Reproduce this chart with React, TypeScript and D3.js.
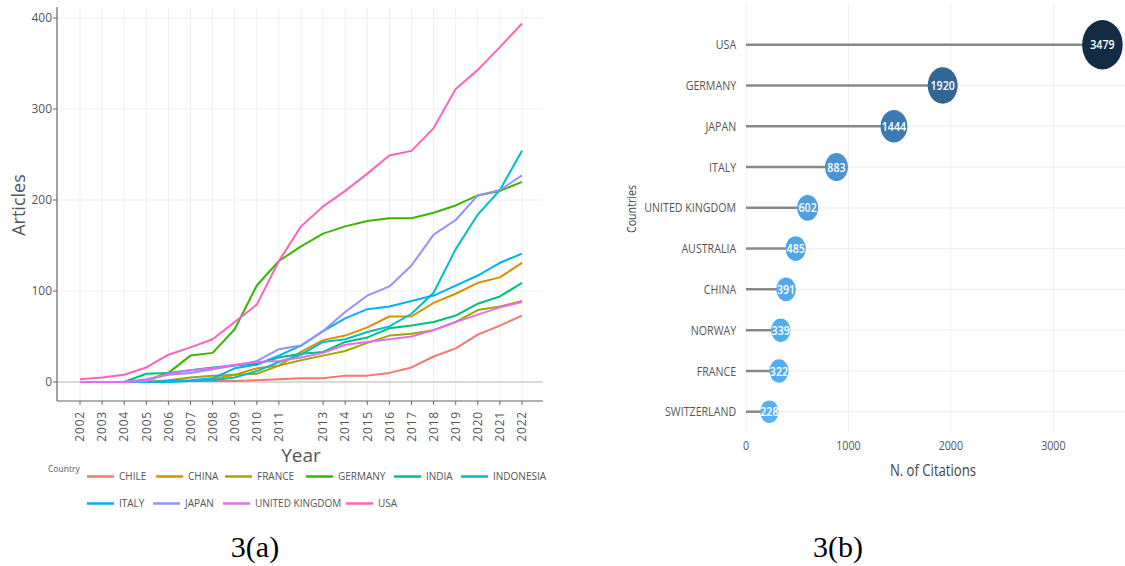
import React from "react";
import * as d3 from "d3";

// ---------- Data: panel (a) ----------
const YEARS = [2002, 2003, 2004, 2005, 2006, 2007, 2008, 2009, 2010, 2011, 2012, 2013, 2014, 2015, 2016, 2017, 2018, 2019, 2020, 2021, 2022];
const X_TICK_YEARS = [2002, 2003, 2004, 2005, 2006, 2007, 2008, 2009, 2010, 2011, 2013, 2014, 2015, 2016, 2017, 2018, 2019, 2020, 2021, 2022];
const Y_TICKS = [0, 100, 200, 300, 400];

const CHILE = [0, 0, 0, 0, 1, 1, 1, 1, 2, 3, 4, 4, 7, 7, 10, 16, 28, 37, 52, 62, 73];
const CHINA = [0, 0, 0, 0, 1, 1, 3, 8, 15, 18, 33, 46, 51, 60, 72, 72, 87, 97, 109, 115, 131];
const FRANCE = [0, 0, 0, 0, 2, 5, 7, 8, 9, 18, 24, 29, 34, 43, 51, 53, 57, 66, 79, 83, 89];
const GERMANY = [0, 0, 0, 2, 10, 29, 32, 58, 106, 133, 149, 163, 171, 177, 180, 180, 186, 194, 205, 210, 220];
const INDIA = [0, 0, 0, 9, 10, 13, 16, 18, 20, 27, 31, 33, 44, 49, 59, 62, 66, 73, 86, 94, 109];
const INDONESIA = [0, 0, 0, 0, 0, 1, 2, 5, 12, 22, 30, 44, 47, 55, 61, 75, 98, 146, 184, 211, 254];
const ITALY = [0, 0, 0, 0, 1, 2, 4, 15, 19, 29, 40, 56, 70, 80, 83, 89, 95, 106, 117, 131, 141];
const JAPAN = [0, 0, 0, 3, 8, 10, 14, 18, 23, 36, 40, 56, 77, 95, 105, 128, 162, 178, 205, 211, 227];
const UNITED_KINGDOM = [0, 0, 0, 1, 9, 13, 15, 19, 22, 23, 27, 32, 41, 44, 47, 50, 57, 66, 74, 82, 88];
const USA = [3, 5, 8, 16, 30, 38, 47, 66, 85, 133, 171, 193, 210, 229, 249, 254, 279, 322, 343, 368, 394];

const SERIES_NAMES = ["CHILE", "CHINA", "FRANCE", "GERMANY", "INDIA", "INDONESIA", "ITALY", "JAPAN", "UNITED KINGDOM", "USA"];
const SERIES_VALUES = [CHILE, CHINA, FRANCE, GERMANY, INDIA, INDONESIA, ITALY, JAPAN, UNITED_KINGDOM, USA];
const SERIES_COLORS = ["#F8766D", "#D89000", "#A3A500", "#39B600", "#00BF7D", "#00BFC4", "#00B0F6", "#9590FF", "#E76BF3", "#FF62BC"];

// ---------- Data: panel (b) ----------
const CITATION_COUNTRIES = ["USA", "GERMANY", "JAPAN", "ITALY", "UNITED KINGDOM", "AUSTRALIA", "CHINA", "NORWAY", "FRANCE", "SWITZERLAND"];
const CITATIONS = [3479, 1920, 1444, 883, 602, 485, 391, 339, 322, 228];
const CITATION_TICKS = [0, 1000, 2000, 3000];

// ---------- Layout ----------
const W = 1125;
const H = 566;
const LEGEND_ROWS = [
  { y: 476.5, xs: [87, 156, 225, 306, 394, 461], items: [0, 1, 2, 3, 4, 5] },
  { y: 503.5, xs: [87, 153, 223, 346], items: [6, 7, 8, 9] },
];

export default function App() {
  // Panel (a) scales
  const x = d3.scaleLinear().domain([2002, 2022]).range([80, 522]);
  const y = d3.scaleLinear().domain([0, 400]).range([382, 18]);
  const plotL = 57, plotR = 543, plotT = 7, plotB = 401;
  const line = d3
    .line<number>()
    .x((_, i) => x(YEARS[i]))
    .y((d) => y(d));

  // Panel (b) scales (drawn in an un-squeezed frame, then squeezed horizontally)
  const squeeze = 0.82;
  const originX = 746;
  const xr = d3.scaleLinear().domain([0, 3000]).range([0, 374.8]);
  const rightEdge = (W - originX) / squeeze;
  const yr = d3.scalePoint<string>().domain(CITATION_COUNTRIES).range([44.7, 411.7]);
  const rScale = d3.scaleLinear().domain([228, 3479]).range([11.3, 24.7]);
  const cScale = d3
    .scaleLinear<string>()
    .domain([228, 3479])
    .range(["#56B1F7", "#132B43"])
    .interpolate(d3.interpolateLab);

  const grid = "#efefef";
  const txt = "#555";

  return (
    <svg
      width={W}
      height={H}
      style={{ position: "absolute", left: 0, top: 0, background: "#fff" }}
      fontFamily="'Open Sans', sans-serif"
    >
      {/* ===== Panel (a) ===== */}
      <g>
        {YEARS.map((yr0) => (
          <line key={"vg" + yr0} x1={x(yr0)} x2={x(yr0)} y1={plotT} y2={plotB} stroke={grid} strokeWidth={1} />
        ))}
        {Y_TICKS.filter((t) => t > 0).map((t) => (
          <line key={"hg" + t} x1={plotL} x2={plotR} y1={y(t)} y2={y(t)} stroke={grid} strokeWidth={1} />
        ))}
        <line x1={plotL} x2={plotR} y1={y(0)} y2={y(0)} stroke="#d9d9d9" strokeWidth={2} />

        {SERIES_VALUES.map((vals, i) => (
          <path key={SERIES_NAMES[i]} d={line(vals) || ""} fill="none" stroke={SERIES_COLORS[i]} strokeWidth={2} strokeLinejoin="round" />
        ))}

        {/* axes */}
        <line x1={plotL} x2={plotL} y1={plotT} y2={plotB} stroke="#666" strokeWidth={1.2} />
        <line x1={plotL} x2={plotR} y1={plotB} y2={plotB} stroke="#666" strokeWidth={1.2} />
        {Y_TICKS.map((t) => (
          <g key={"yt" + t}>
            <line x1={plotL - 4} x2={plotL} y1={y(t)} y2={y(t)} stroke="#666" />
            <text x={plotL - 5} y={y(t)} dy="0.35em" textAnchor="end" fontSize={12} fill={txt}>
              {t}
            </text>
          </g>
        ))}
        {X_TICK_YEARS.map((t) => (
          <g key={"xt" + t}>
            <line x1={x(t)} x2={x(t)} y1={plotB} y2={plotB + 4} stroke="#666" />
            <text
              transform={`translate(${x(t)},${plotB + 10}) rotate(-90)`}
              dy="0.35em"
              textAnchor="end"
              fontSize={12}
              letterSpacing={0.8}
              fill={txt}
            >
              {t}
            </text>
          </g>
        ))}
        <text x={301} y={462} textAnchor="middle" fontSize={19} fill={txt}>
          Year
        </text>
        <text transform={`translate(25,205) rotate(-90)`} textAnchor="middle" fontSize={18} fill={txt}>
          Articles
        </text>

        {/* legend */}
        <text x={48} y={472} fontSize={8.5} fill={txt}>
          Country
        </text>
        {LEGEND_ROWS.map((row, ri) =>
          row.items.map((si, k) => (
            <g key={"lg" + ri + "-" + k}>
              <line x1={row.xs[k]} x2={row.xs[k] + 27} y1={row.y} y2={row.y} stroke={SERIES_COLORS[si]} strokeWidth={2.5} />
              <text x={row.xs[k] + 32} y={row.y} dy="0.36em" fontSize={10} fill={txt}>
                {SERIES_NAMES[si]}
              </text>
            </g>
          ))
        )}
      </g>

      {/* ===== Panel (b) ===== */}
      <g transform={`translate(${originX},0) scale(${squeeze},1)`}>
        {CITATION_TICKS.map((t) => (
          <line key={"rvg" + t} x1={xr(t)} x2={xr(t)} y1={3} y2={433} stroke={grid} strokeWidth={1.2} />
        ))}
        {CITATION_COUNTRIES.map((c) => (
          <line key={"rhg" + c} x1={0} x2={rightEdge} y1={yr(c)} y2={yr(c)} stroke={grid} strokeWidth={1.2} />
        ))}
        {CITATION_COUNTRIES.map((c, i) => (
          <line key={"stem" + c} x1={xr(0)} x2={xr(CITATIONS[i])} y1={yr(c)} y2={yr(c)} stroke="#888" strokeWidth={2.5} />
        ))}
        {CITATION_COUNTRIES.map((c, i) => (
          <g key={"pt" + c}>
            <circle cx={xr(CITATIONS[i])} cy={yr(c)} r={rScale(CITATIONS[i])} fill={cScale(CITATIONS[i])} />
            <text x={xr(CITATIONS[i])} y={yr(c)} dy="0.36em" textAnchor="middle" fontSize={13} fontWeight={600} fill="#fff">
              {CITATIONS[i]}
            </text>
          </g>
        ))}
        {CITATION_COUNTRIES.map((c) => (
          <text key={"lab" + c} x={-12} y={yr(c)} dy="0.36em" textAnchor="end" fontSize={13} fill={txt}>
            {c}
          </text>
        ))}
        {CITATION_TICKS.map((t) => (
          <text key={"rxt" + t} x={xr(t)} y={450} textAnchor="middle" fontSize={13} fill={txt}>
            {t}
          </text>
        ))}
        <text x={228} y={476} textAnchor="middle" fontSize={16} fill="#444">
          N. of Citations
        </text>
        <text
          transform={`translate(-134,209) rotate(-90)`}
          textAnchor="middle"
          fontSize={16}
          textLength={48}
          lengthAdjust="spacingAndGlyphs"
          fill="#444"
        >
          Countries
        </text>
      </g>

      {/* captions */}
      <text x={255} y={557} textAnchor="middle" fontFamily="'Liberation Serif', 'Times New Roman', serif" fontSize={30} fill="#000">
        3(a)
      </text>
      <text x={838} y={557} textAnchor="middle" fontFamily="'Liberation Serif', 'Times New Roman', serif" fontSize={30} fill="#000">
        3(b)
      </text>
    </svg>
  );
}
